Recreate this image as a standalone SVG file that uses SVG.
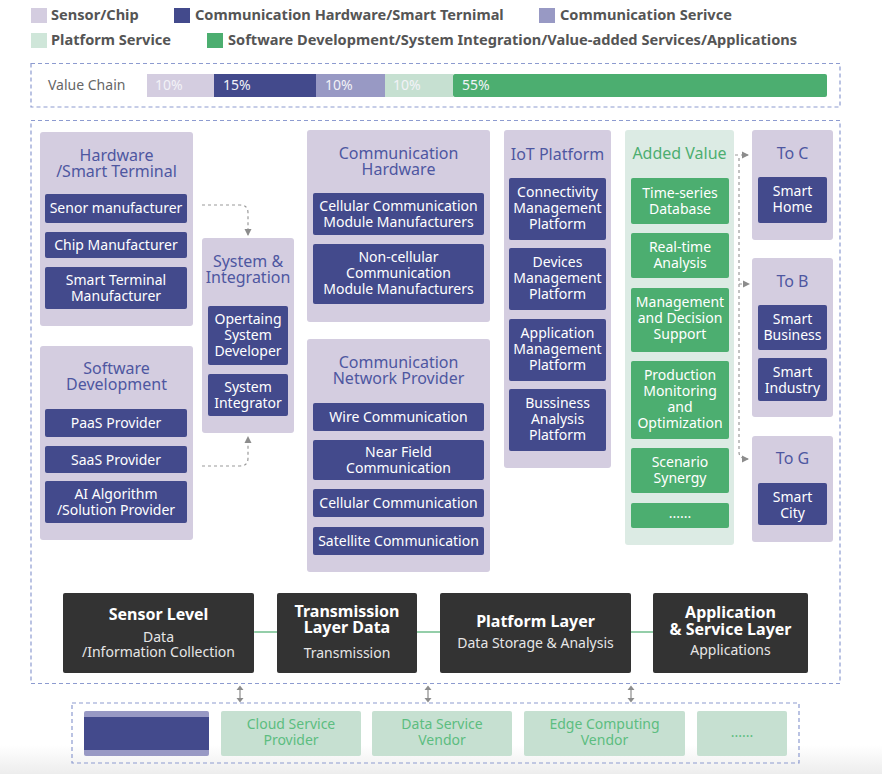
<svg xmlns="http://www.w3.org/2000/svg" width="882" height="774" viewBox="0 0 882 774">
<defs>
<linearGradient id="bg" x1="0" y1="0" x2="0" y2="1"><stop offset="0" stop-color="#ffffff"/><stop offset="1" stop-color="#ededed"/></linearGradient>
<marker id="ah" markerWidth="8" markerHeight="8" refX="6" refY="4" orient="auto" markerUnits="userSpaceOnUse"><path d="M0,0.5 L7,4 L0,7.5 Z" fill="#8c8c8c"/></marker>
</defs>
<style>
text{font-family:"Noto Sans","Liberation Sans",sans-serif}
.lg{font-size:14.6px;font-weight:bold;fill:#555}
.vc{font-size:14px;fill:#666}
.pct{font-size:14px;fill:#f2f2f7}
.dash{fill:none;stroke:#8d9bd0;stroke-width:1.2;stroke-dasharray:4 3}
.pan{fill:#d4cde0}
.gpan{fill:#dcebe4}
.it{fill:#434a8c}
.git{fill:#4cae70}
.tt{font-size:16px;fill:#4e57a0;text-anchor:middle}
.gtt{font-size:16px;fill:#4cae70;text-anchor:middle}
.tx{font-size:14px;fill:#ffffff;text-anchor:middle}
.lay{fill:#333333}
.lt{font-size:16px;font-weight:bold;fill:#ffffff;text-anchor:middle}
.ls{font-size:14px;fill:#e6e6e6;text-anchor:middle}
.bx{fill:#c6e0d1}
.bt{font-size:14px;fill:#5cbd80;text-anchor:middle}
.con{fill:none;stroke:#9a9a9a;stroke-width:1.2;stroke-dasharray:3 3}
</style>
<rect x="0" y="745" width="882" height="29" fill="url(#bg)"/>

<g id="legend">
<rect x="31" y="8" width="16" height="15" fill="#d4cde0"/><text class="lg" x="51" y="20">Sensor/Chip</text>
<rect x="174" y="8" width="16" height="15" fill="#434a8c"/><text class="lg" x="195" y="20">Communication Hardware/Smart Ternimal</text>
<rect x="539" y="8" width="16" height="15" fill="#9899c4"/><text class="lg" x="560" y="20">Communication Serivce</text>
<rect x="31" y="33" width="16" height="15" fill="#cfe6d9"/><text class="lg" x="51" y="45">Platform Service</text>
<rect x="207" y="33" width="16" height="15" fill="#4cae70"/><text class="lg" x="228" y="45">Software Development/System Integration/Value-added Services/Applications</text>
</g>

<g id="value-chain">
<rect class="dash" x="31" y="63.5" width="809" height="43.5"/>
<text class="vc" x="48" y="90">Value Chain</text>
<rect x="147" y="74" width="67" height="23" fill="#d4cde0"/>
<rect x="214" y="74" width="102" height="23" fill="#434a8c"/>
<rect x="316" y="74" width="69" height="23" fill="#9899c4"/>
<rect x="385" y="74" width="68" height="23" fill="#c6e0d1"/>
<rect x="453" y="74" width="374" height="23" rx="2" fill="#4cae70"/>
<text class="pct" x="155" y="90">10%</text>
<text class="pct" x="223" y="90">15%</text>
<text class="pct" x="325" y="90">10%</text>
<text class="pct" x="393" y="90">10%</text>
<text class="pct" x="462" y="90">55%</text>
</g>

<rect class="dash" x="31" y="120.5" width="809" height="563"/>

<g id="hardware">
<rect class="pan" x="40" y="132" width="153" height="194" rx="3"/>
<text class="tt" x="116.5" y="161">Hardware</text><text class="tt" x="116.5" y="177">/Smart Terminal</text>
<rect class="it" x="45" y="194" width="142" height="29" rx="2"/><text class="tx" x="116" y="213">Senor manufacturer</text>
<rect class="it" x="45" y="232" width="142" height="26" rx="2"/><text class="tx" x="116" y="250">Chip Manufacturer</text>
<rect class="it" x="45" y="267" width="142" height="42" rx="2"/><text class="tx" x="116" y="285">Smart Terminal</text><text class="tx" x="116" y="301">Manufacturer</text>
</g>

<g id="software">
<rect class="pan" x="40" y="346" width="153" height="194" rx="3"/>
<text class="tt" x="116.5" y="374">Software</text><text class="tt" x="116.5" y="390">Development</text>
<rect class="it" x="45" y="409" width="142" height="28" rx="2"/><text class="tx" x="116" y="428">PaaS  Provider</text>
<rect class="it" x="45" y="446" width="142" height="27" rx="2"/><text class="tx" x="116" y="465">SaaS Provider</text>
<rect class="it" x="45" y="481" width="142" height="42" rx="2"/><text class="tx" x="116" y="499">AI Algorithm</text><text class="tx" x="116" y="515">/Solution Provider</text>
</g>

<g id="system-integration">
<rect class="pan" x="202" y="238" width="92" height="195" rx="3"/>
<text class="tt" x="248" y="267">System &amp;</text><text class="tt" x="248" y="283">Integration</text>
<rect class="it" x="208" y="306" width="80" height="59" rx="2"/><text class="tx" x="248" y="324">Opertaing</text><text class="tx" x="248" y="340">System</text><text class="tx" x="248" y="356">Developer</text>
<rect class="it" x="208" y="374" width="80" height="42" rx="2"/><text class="tx" x="248" y="392">System</text><text class="tx" x="248" y="408">Integrator</text>
</g>

<g id="comm-hardware">
<rect class="pan" x="307" y="130" width="183" height="192" rx="3"/>
<text class="tt" x="398.5" y="159">Communication</text><text class="tt" x="398.5" y="175">Hardware</text>
<rect class="it" x="313" y="193" width="171" height="42" rx="2"/><text class="tx" x="398.5" y="211">Cellular Communication</text><text class="tx" x="398.5" y="227">Module Manufacturers</text>
<rect class="it" x="313" y="244" width="171" height="60" rx="2"/><text class="tx" x="398.5" y="262">Non-cellular</text><text class="tx" x="398.5" y="278">Communication</text><text class="tx" x="398.5" y="294">Module  Manufacturers</text>
</g>

<g id="comm-network">
<rect class="pan" x="307" y="339" width="183" height="233" rx="3"/>
<text class="tt" x="398.5" y="368">Communication</text><text class="tt" x="398.5" y="384">Network Provider</text>
<rect class="it" x="313" y="403" width="171" height="28" rx="2"/><text class="tx" x="398.5" y="422">Wire Communication</text>
<rect class="it" x="313" y="440" width="171" height="40" rx="2"/><text class="tx" x="398.5" y="457">Near Field</text><text class="tx" x="398.5" y="473">Communication</text>
<rect class="it" x="313" y="489" width="171" height="28" rx="2"/><text class="tx" x="398.5" y="508">Cellular Communication</text>
<rect class="it" x="313" y="527" width="171" height="28" rx="2"/><text class="tx" x="398.5" y="546">Satellite Communication</text>
</g>

<g id="iot-platform">
<rect class="pan" x="504" y="130" width="107" height="338" rx="3"/>
<text class="tt" x="557.5" y="160">IoT Platform</text>
<rect class="it" x="509" y="178" width="97" height="62" rx="2"/><text class="tx" x="557.5" y="197">Connectivity</text><text class="tx" x="557.5" y="213">Management</text><text class="tx" x="557.5" y="229">Platform</text>
<rect class="it" x="509" y="248" width="97" height="62" rx="2"/><text class="tx" x="557.5" y="267">Devices</text><text class="tx" x="557.5" y="283">Management</text><text class="tx" x="557.5" y="299">Platform</text>
<rect class="it" x="509" y="319" width="97" height="62" rx="2"/><text class="tx" x="557.5" y="338">Application</text><text class="tx" x="557.5" y="354">Management</text><text class="tx" x="557.5" y="370">Platform</text>
<rect class="it" x="509" y="389" width="97" height="62" rx="2"/><text class="tx" x="557.5" y="408">Bussiness</text><text class="tx" x="557.5" y="424">Analysis</text><text class="tx" x="557.5" y="440">Platform</text>
</g>

<g id="added-value">
<rect class="gpan" x="625" y="130" width="109" height="415" rx="3"/>
<text class="gtt" x="679.5" y="159">Added Value</text>
<rect class="git" x="631" y="178" width="98" height="46" rx="2"/><text class="tx" x="680" y="198">Time-series</text><text class="tx" x="680" y="214">Database</text>
<rect class="git" x="631" y="233" width="98" height="45" rx="2"/><text class="tx" x="680" y="252">Real-time</text><text class="tx" x="680" y="268">Analysis</text>
<rect class="git" x="631" y="288" width="98" height="64" rx="2"/><text class="tx" x="680" y="307">Management</text><text class="tx" x="680" y="323">and Decision</text><text class="tx" x="680" y="339">Support</text>
<rect class="git" x="631" y="361" width="98" height="78" rx="2"/><text class="tx" x="680" y="380">Production</text><text class="tx" x="680" y="396">Monitoring</text><text class="tx" x="680" y="412">and</text><text class="tx" x="680" y="428">Optimization</text>
<rect class="git" x="631" y="448" width="98" height="45" rx="2"/><text class="tx" x="680" y="467">Scenario</text><text class="tx" x="680" y="483">Synergy</text>
<rect class="git" x="631" y="503" width="98" height="25" rx="2"/><text class="tx" x="680" y="518" fill="#cfe6d9">......</text>
</g>

<g id="to-c">
<rect class="pan" x="752" y="130" width="81" height="110" rx="3"/>
<text class="tt" x="792.5" y="159">To C</text>
<rect class="it" x="758" y="177" width="69" height="46" rx="2"/><text class="tx" x="792.5" y="196">Smart</text><text class="tx" x="792.5" y="212">Home</text>
</g>
<g id="to-b">
<rect class="pan" x="752" y="258" width="81" height="159" rx="3"/>
<text class="tt" x="792.5" y="287">To B</text>
<rect class="it" x="758" y="305" width="69" height="45" rx="2"/><text class="tx" x="792.5" y="324">Smart</text><text class="tx" x="792.5" y="340">Business</text>
<rect class="it" x="758" y="358" width="69" height="43" rx="2"/><text class="tx" x="792.5" y="377">Smart</text><text class="tx" x="792.5" y="393">Industry</text>
</g>
<g id="to-g">
<rect class="pan" x="752" y="436" width="81" height="106" rx="3"/>
<text class="tt" x="792.5" y="464">To G</text>
<rect class="it" x="758" y="483" width="69" height="42" rx="2"/><text class="tx" x="792.5" y="502">Smart</text><text class="tx" x="792.5" y="518">City</text>
</g>

<g id="layers">
<rect class="lay" x="63" y="593" width="191" height="80" rx="2"/>
<text class="lt" x="158.5" y="620">Sensor Level</text><text class="ls" x="158.5" y="642">Data</text><text class="ls" x="158.5" y="657">/Information Collection</text>
<rect class="lay" x="277" y="593" width="140" height="80" rx="2"/>
<text class="lt" x="347" y="617">Transmission</text><text class="lt" x="347" y="633">Layer Data</text><text class="ls" x="347" y="658">Transmission</text>
<rect class="lay" x="440" y="593" width="191" height="80" rx="2"/>
<text class="lt" x="535.5" y="627">Platform Layer</text><text class="ls" x="535.5" y="648">Data Storage &amp; Analysis</text>
<rect class="lay" x="653" y="593" width="155" height="80" rx="2"/>
<text class="lt" x="730.5" y="618">Application</text><text class="lt" x="730.5" y="635">&amp; Service Layer</text><text class="ls" x="730.5" y="655">Applications</text>
</g>

<g id="providers">
<rect class="dash" x="72" y="703" width="727" height="60"/>
<rect x="84" y="711" width="125" height="45" rx="2" fill="#9899c4"/>
<rect x="84" y="717" width="125" height="33" fill="#434a8c"/>
<rect class="bx" x="221" y="711" width="140" height="45" rx="2"/><text class="bt" x="291" y="729">Cloud Service</text><text class="bt" x="291" y="745">Provider</text>
<rect class="bx" x="372" y="711" width="140" height="45" rx="2"/><text class="bt" x="442" y="729">Data Service</text><text class="bt" x="442" y="745">Vendor</text>
<rect class="bx" x="524" y="711" width="161" height="45" rx="2"/><text class="bt" x="604.5" y="729">Edge Computing</text><text class="bt" x="604.5" y="745">Vendor</text>
<rect class="bx" x="697" y="711" width="90" height="45" rx="2"/><text class="bt" x="742" y="737">......</text>
</g>

<g id="connectors">
<path class="con" d="M202,205 H240 Q248,205 248,213 V235" marker-end="url(#ah)"/>
<path class="con" d="M202,466 H240 Q248,466 248,458 V437" marker-end="url(#ah)"/>
<path class="con" d="M735,155 H748" marker-end="url(#ah)"/>
<path class="con" d="M739,158 V452 Q739,459 748,459" marker-end="url(#ah)"/>
<path class="con" d="M739,284 H749" marker-end="url(#ah)"/>
<g stroke="#4cae70" stroke-width="1.2">
<line x1="254" y1="632" x2="277" y2="632"/>
<line x1="417" y1="632" x2="440" y2="632"/>
<line x1="631" y1="632" x2="653" y2="632"/>
</g>
<g fill="#8c8c8c" stroke="#8c8c8c" stroke-width="1.2">
<line x1="240" y1="689" x2="240" y2="699"/><path d="M236.5,690 L240,685.5 L243.5,690 Z M236.5,698 L240,702.5 L243.5,698 Z" stroke="none"/>
<line x1="428" y1="689" x2="428" y2="699"/><path d="M424.5,690 L428,685.5 L431.5,690 Z M424.5,698 L428,702.5 L431.5,698 Z" stroke="none"/>
<line x1="631" y1="689" x2="631" y2="699"/><path d="M627.5,690 L631,685.5 L634.5,690 Z M627.5,698 L631,702.5 L634.5,698 Z" stroke="none"/>
</g>
</g>
</svg>
